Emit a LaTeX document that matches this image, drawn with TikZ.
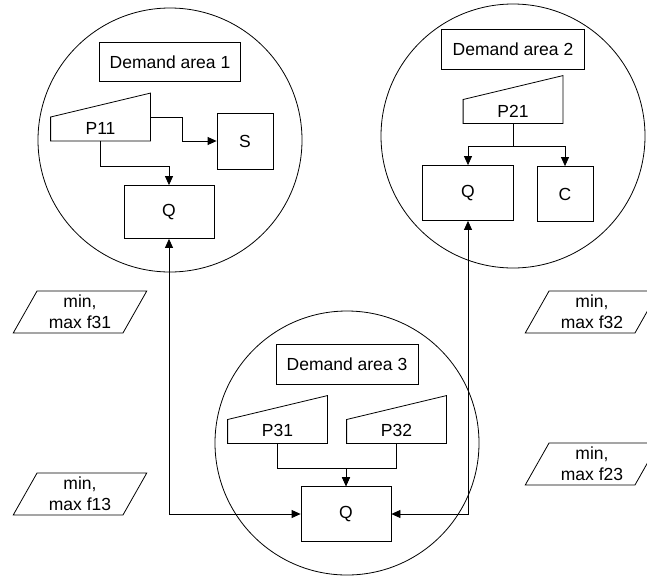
\documentclass[tikz,border=0pt]{standalone}
\usepackage{fontspec}
\setmainfont{Liberation Sans}
\usepackage{tikz}
\usetikzlibrary{arrows.meta, shapes.geometric}
\newcommand{\maninput}[1]{\draw (#1.south west) -- (#1.south east) -- (#1.north east) -- (#1.west) -- cycle;}

\begin{document}
\begin{tikzpicture}[x=1pt, y=-1pt, line width=0.8pt, >={Triangle[length=9pt, width=8pt]},
    every node/.style={font=\fontsize{17.5}{21}\selectfont, inner sep=0pt},
    area/.style={circle, draw, minimum size=264pt},
    box/.style={rectangle, draw},
    manin/.style={rectangle, minimum width=99pt, minimum height=47pt},
    limit/.style={trapezium, draw, trapezium left angle=63, trapezium right angle=117,
        trapezium stretches=true, minimum width=134pt, minimum height=42pt, align=center}]
    \useasboundingbox (0,0) rectangle (647,576);

    \node[area] (A1) at (170,140) {};
    \node[area] (A2) at (513,136) {};
    \node[area] (A3) at (347,443) {};

    \node[box, minimum width=141pt, minimum height=39pt] (D1) at (170,62) {Demand area 1};
    \node[box, minimum width=143pt, minimum height=40pt] (D2) at (513,49) {Demand area 2};
    \node[box, minimum width=142pt, minimum height=40pt] (D3) at (347,364) {Demand area 3};

    \node[manin, label={[yshift=-11pt]center:P11}] (P11) at (100.5,117) {};
    \node[manin, label={[yshift=-12pt]center:P21}] (P21) at (513,99.5) {};
    \node[manin, label={[yshift=-11pt]center:P31}] (P31) at (277.5,419.5) {};
    \node[manin, label={[yshift=-11pt]center:P32}] (P32) at (396.5,419.5) {};
    \maninput{P11}
    \maninput{P21}
    \maninput{P31}
    \maninput{P32}

    \node[box, minimum width=56pt, minimum height=56pt] (S) at (245,141) {S};
    \node[box, minimum width=90pt, minimum height=53pt] (Q1) at (169,212) {Q};
    \node[box, minimum width=91pt, minimum height=55pt] (Q2) at (468,193) {Q};
    \node[box, minimum width=56pt, minimum height=55pt] (C) at (565,194) {C};
    \node[box, minimum width=90pt, minimum height=55pt] (Q3) at (346,514) {Q};

    \node[limit] (F31) at (80,312) {min,\\max f31};
    \node[limit] (F13) at (80,494) {min,\\max f13};
    \node[limit] (F32) at (592,312) {min,\\max f32};
    \node[limit] (F23) at (592,464) {min,\\max f23};

    \draw[->] (P11.east) -- ++(32,0) |- (S.west);
    \draw[->] (P11.south) -- ++(0,25) -| (Q1.north);
    \draw (P21.south) -- ++(0,23) coordinate (split2);
    \draw[->] (split2) -| (Q2.north);
    \draw[->] (split2) -| (C.north);
    \draw[->] (P31.south) -- ++(0,25) -| (Q3.north);
    \draw[->] (P32.south) -- ++(0,25) -| (Q3.north);
    \draw[<->] (Q1.south) |- (Q3.west);
    \draw[<->] (Q2.south) |- (Q3.east);
\end{tikzpicture}
\end{document}
